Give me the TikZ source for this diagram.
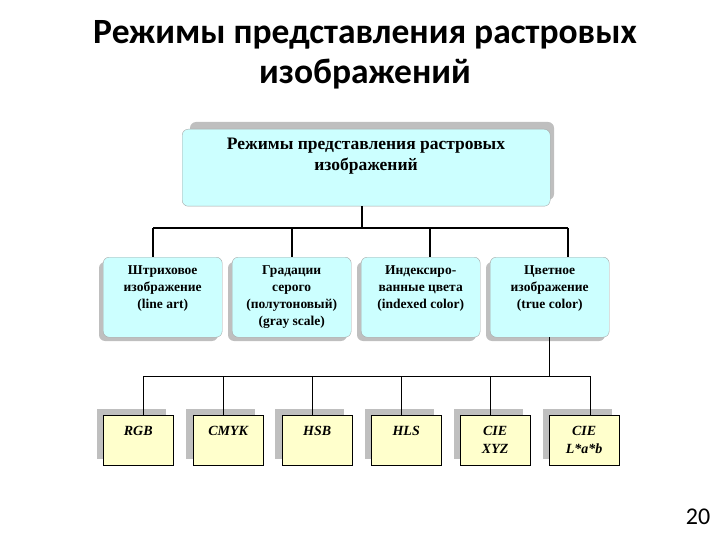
\documentclass[tikz,border=0pt]{standalone}
\usepackage{fontspec}
\setmainfont{Liberation Serif}
\newfontfamily\slidefont{Carlito}
\usepackage{tikz}
\usetikzlibrary{positioning}

\definecolor{boxcyan}{HTML}{CCFFFF}
\definecolor{boxyellow}{HTML}{FFFFCC}

\begin{document}
\begin{tikzpicture}[x=1pt, y=-1pt,
	heading/.style={font=\slidefont\bfseries\fontsize{35.5}{40}\selectfont, align=center},
	mainbox/.style={draw=gray!70, fill=boxcyan, rounded corners=6pt, minimum width=368pt, minimum height=77pt, align=center, anchor=north west, inner sep=0pt},
	modebox/.style={draw=gray!70, fill=boxcyan, rounded corners=6pt, minimum width=119pt, minimum height=80pt, align=center, anchor=north west, inner sep=0pt},
	modelbox/.style={draw=black, fill=boxyellow, minimum width=70pt, minimum height=50pt, align=center, anchor=north west, inner sep=0pt},
	boxtext/.style={font=\bfseries\fontsize{13.5}{17}\selectfont, align=center, anchor=north},
	modeltext/.style={font=\bfseries\itshape\fontsize{14}{18}\selectfont, align=center, anchor=north},
	shade/.style={fill=gray!50, draw=none},
	link/.style={draw=black, line width=1.1pt},
	thin link/.style={draw=black, line width=0.6pt}]
	\useasboundingbox (0,0) rectangle (720,540);
	\node[heading] (title) at (365,55) {Режимы представления растровых\\изображений};
	\node[font=\slidefont\fontsize{24}{24}\selectfont] (page) at (698,517) {20};
	\fill[shade, rounded corners=6pt] (190,122) rectangle (554,200);
	\node[mainbox] (main) at (182,129) {};
	\node[font=\bfseries\fontsize{17.5}{21}\selectfont, align=center] (maintext) at (366,156) {Режимы представления растровых\\изображений};
	\foreach \x in {103, 232, 361, 490}
		\fill[shade, rounded corners=6pt] (\x-4,262) rectangle (\x+115,341);
	\node[modebox] (line) at (103,257) {};
	\node[modebox] (gray) at (232,257) {};
	\node[modebox] (index) at (361,257) {};
	\node[modebox] (true) at (490,257) {};
	\node[boxtext] (linetext) at (line.north) [yshift=-5pt] {Штриховое\\изображение\\(line art)};
	\node[boxtext] (graytext) at (gray.north) [yshift=-5pt] {Градации\\серого\\(полутоновый)\\(gray scale)};
	\node[boxtext] (indextext) at (index.north) [yshift=-5pt] {Индексиро-\\ванные цвета\\(indexed color)};
	\node[boxtext] (truetext) at (true.north) [yshift=-5pt] {Цветное\\изображение\\(true color)};
	\coordinate (bus) at (362,228);
	\draw[link] (main.south -| bus) -- (bus);
	\draw[link] (153,228) -- (568,228);
	\foreach \x/\name in {153/line, 292/gray, 430/index, 568/true}
		\draw[link] (\x,228) -- (\x,0 |- \name.north);
	\foreach \x in {97, 186, 275, 365, 454, 543}
		\fill[shade] (\x,409) rectangle (\x+69,459);
	\node[modelbox] (rgb) at (103,415) {};
	\node[modelbox] (cmyk) at (193,415) {};
	\node[modelbox] (hsb) at (282,415) {};
	\node[modelbox] (hls) at (371,415) {};
	\node[modelbox] (xyz) at (460,415) {};
	\node[modelbox] (lab) at (549,415) {};
	\foreach \name/\txt in {rgb/RGB, cmyk/CMYK, hsb/HSB, hls/HLS, xyz/{CIE\\XYZ}, lab/{CIE\\L*a*b}}
		\node[modeltext] (\name text) at (\name.north) [yshift=-8pt] {\txt};
	\coordinate (lowbus) at (549,376);
	\draw[thin link] (true.south -| lowbus) -- (lowbus);
	\draw[thin link] (143,376) -- (590,376);
	\foreach \x/\name in {143/rgb, 223/cmyk, 312/hsb, 401/hls, 490/xyz, 590/lab}
		\draw[thin link] (\x,376) -- (\x,0 |- \name.north);
\end{tikzpicture}
\end{document}
